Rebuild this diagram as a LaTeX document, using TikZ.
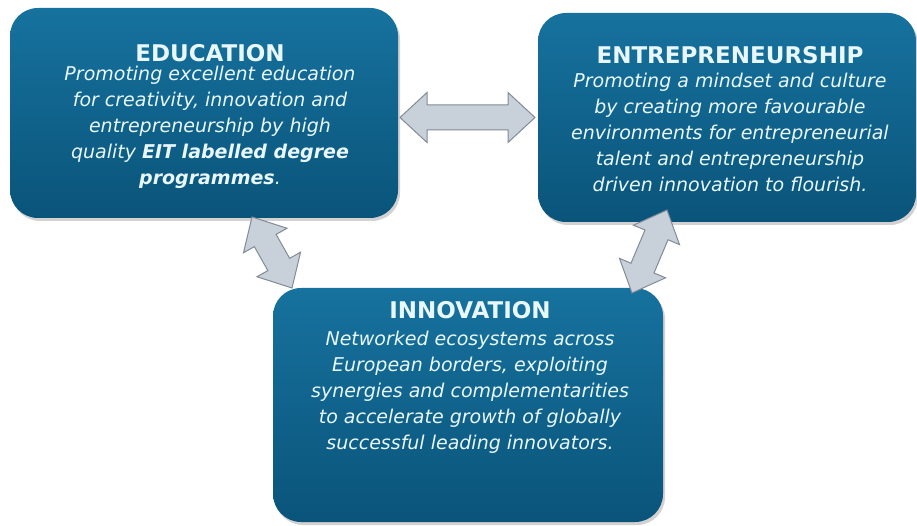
\documentclass[tikz,border=0pt]{standalone}
\usepackage{fontspec}
\setmainfont{DejaVu Sans}
\usetikzlibrary{shadows}

\definecolor{boxtop}{RGB}{22,114,158}
\definecolor{boxbot}{RGB}{10,84,122}
\definecolor{boxtext}{RGB}{232,247,251}
\definecolor{arrowfill}{RGB}{200,208,218}
\definecolor{arrowline}{RGB}{130,140,150}

\tikzset{
  pillar/.style={rectangle, rounded corners=28pt, inner sep=0pt,
    top color=boxtop, bottom color=boxbot, draw=none,
    drop shadow={opacity=0.35, shadow xshift=2pt, shadow yshift=-3pt}},
  heading/.style={inner sep=0pt, text=boxtext, font=\fontsize{23}{26}\selectfont\bfseries},
  blurb/.style={inner sep=0pt, anchor=north, align=center, text=boxtext,
    font=\fontsize{19}{26}\selectfont\itshape},
  blockarrow/.style={fill=arrowfill, draw=arrowline, line width=1pt, line join=miter}
}

% two-headed block arrow: centre, angle, length
\newcommand{\twoway}[3]{%
  \begin{scope}[shift={#1}, rotate=#2]
    \draw[blockarrow] (-#3/2,0) -- (-#3/2+27,25) -- (-#3/2+27,12.5)
      -- (#3/2-27,12.5) -- (#3/2-27,25) -- (#3/2,0) -- (#3/2-27,-25)
      -- (#3/2-27,-12.5) -- (-#3/2+27,-12.5) -- (-#3/2+27,-25) -- cycle;
  \end{scope}}

\begin{document}
\begin{tikzpicture}[x=1pt, y=-1pt]
  \useasboundingbox[fill=white] (0,0) rectangle (917,526);

  % the three pillars
  \node[pillar, minimum width=388pt, minimum height=210pt] (edu) at (204,113) {};
  \node[pillar, minimum width=378pt, minimum height=209pt] (ent) at (727,117.5) {};
  \node[pillar, minimum width=390pt, minimum height=234pt] (inn) at (468,405) {};

  % texts
  \node[heading] (eduhead) at (210,53) {EDUCATION};
  \node[blurb] (edutext) at (210,66) {Promoting excellent education\\
    for creativity, innovation and\\
    entrepreneurship by high\\
    quality \textbf{EIT labelled degree}\\
    \textbf{programmes}.};

  \node[heading] (enthead) at (730,55) {ENTREPRENEURSHIP};
  \node[blurb] (enttext) at (730,73) {Promoting a mindset and culture\\
    by creating more favourable\\
    environments for entrepreneurial\\
    talent and entrepreneurship\\
    driven innovation to flourish.};

  \node[heading] (innhead) at (470,310) {INNOVATION};
  \node[blurb] (inntext) at (470,331) {Networked ecosystems across\\
    European borders, exploiting\\
    synergies and complementarities\\
    to accelerate growth of globally\\
    successful leading innovators.};

  % links between the pillars
  \twoway{(467.5,117.5)}{0}{135}
  \twoway{(272,252.5)}{-60.6}{81.5}
  \twoway{(649.5,251.5)}{67.1}{90}
\end{tikzpicture}
\end{document}
